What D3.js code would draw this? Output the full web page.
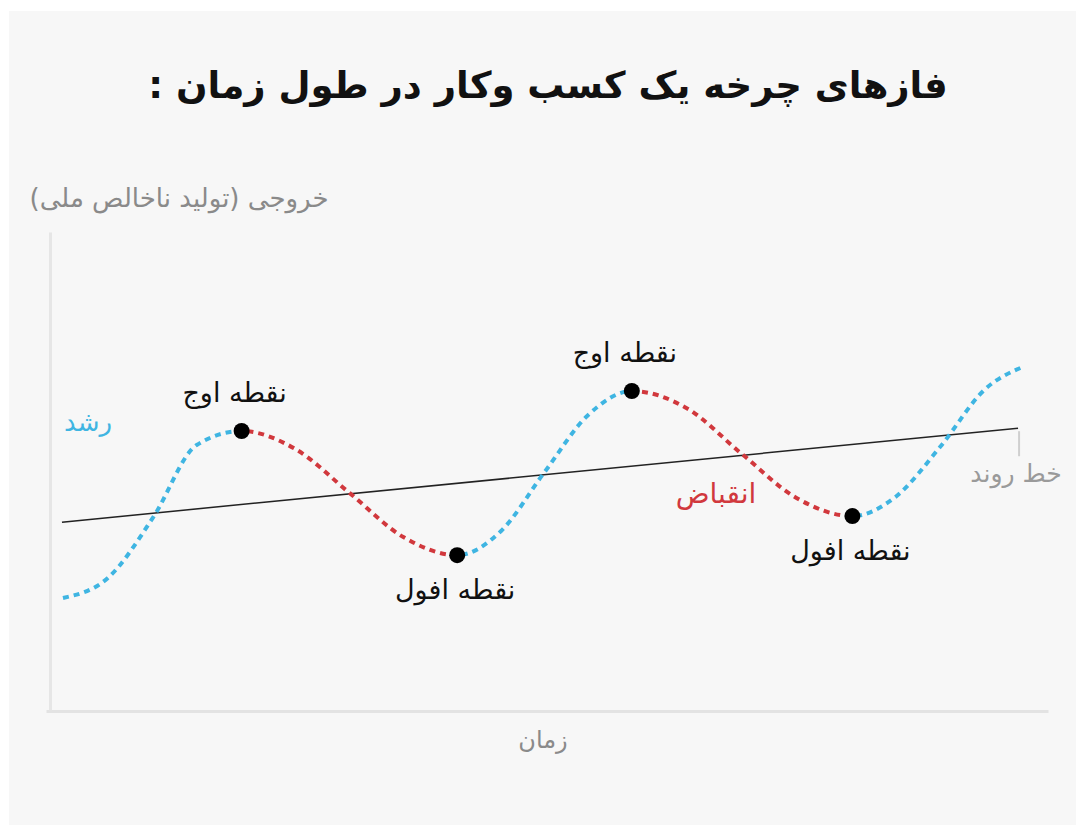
<!DOCTYPE html>
<html>
<head>
<meta charset="utf-8">
<script src="https://cdn.jsdelivr.net/npm/d3@7"></script>
<style>
  body { margin: 0; background: #ffffff; }
  text { font-family: "DejaVu Sans", "Noto Sans", sans-serif; }
</style>
</head>
<body>
<div id="chart"></div>
<script>
// Chart data (time and output in arbitrary 0-100 units)

var titleText = "فازهای چرخه یک کسب وکار در طول زمان :";
var yLabelText = "خروجی (تولید ناخالص ملی)";
var xLabelText = "زمان";

// points
var cycleTime = [1.3, 5.8, 10.3, 14.7, 19.2,
  24.6, 30.0, 35.4, 40.8,
  45.2, 49.5, 53.9, 58.3,
  63.8, 69.3, 74.8, 80.4,
  84.7, 89.2, 93.7, 97.5];
var cycleOutput = [24.1, 28.4, 41.3, 57.0, 60.0,
  56.1, 46.7, 37.2, 33.3,
  38.5, 51.0, 63.4, 68.6,
  64.9, 55.1, 45.6, 41.7,
  45.8, 56.6, 69.0, 73.8];

// peaks and troughs
var turnTime = [19.2, 40.8, 58.3, 80.4];
var turnOutput = [60.0, 33.3, 68.6, 41.7];
var turnLabels = ["نقطه اوج", "نقطه افول", "نقطه اوج", "نقطه افول"];
var turnIsPeak = [true, false, true, false];

// phases: growth (up) and contraction (down)
var phaseStart = [1.3, 19.2, 40.8, 58.3, 80.4];
var phaseEnd = [19.2, 40.8, 58.3, 80.4, 97.5];
var phaseType = ["up", "down", "up", "down", "up"];

// trend line
var trendTime = [1.2, 97.0];
var trendOutput = [40.4, 60.6];

var svgWidth = 1076;
var svgHeight = 825;

var blue = "#3fb5e2";
var red = "#d1383d";
var gray = "#8a8a8a";

var svg = d3.select("#chart")
  .append("svg")
  .attr("width", svgWidth)
  .attr("height", svgHeight);

// background panel
svg.append("rect")
  .attr("x", 9)
  .attr("y", 11)
  .attr("width", svgWidth - 9)
  .attr("height", svgHeight - 11)
  .attr("fill", "#f7f7f7");

// scales
var xScale = d3.scaleLinear().domain([0, 100]).range([50, 1048]);
var yScale = d3.scaleLinear().domain([0, 100]).range([710, 245]);

// axes (lines only)
var xAxisScale = xScale.copy().domain([xScale.invert(46), 100]).range([46, 1048]);
var yAxisScale = yScale.copy().domain([0, yScale.invert(232)]).range([710, 232]);

var bottomAxis = svg.append("g")
  .attr("transform", "translate(0, 711)")
  .call(d3.axisBottom(xAxisScale).tickValues([]).tickSizeOuter(0));
bottomAxis.select(".domain").attr("stroke", "#e3e3e3").attr("stroke-width", 3);

var leftAxis = svg.append("g")
  .attr("transform", "translate(50, 0)")
  .call(d3.axisLeft(yAxisScale).tickValues([]).tickSizeOuter(0));
leftAxis.select(".domain").attr("stroke", "#e6e6e6").attr("stroke-width", 3);

// title
svg.append("text")
  .attr("x", 548)
  .attr("y", 98)
  .attr("text-anchor", "middle")
  .attr("direction", "rtl")
  .attr("font-size", "37px")
  .attr("font-weight", "bold")
  .attr("fill", "#111111")
  .text(titleText);

// axis labels
svg.append("text")
  .attr("x", 179)
  .attr("y", 207)
  .attr("text-anchor", "middle")
  .attr("direction", "rtl")
  .attr("font-size", "26px")
  .attr("fill", gray)
  .text(yLabelText);

svg.append("text")
  .attr("x", 543)
  .attr("y", 748)
  .attr("text-anchor", "middle")
  .attr("direction", "rtl")
  .attr("font-size", "24px")
  .attr("fill", gray)
  .text(xLabelText);

// trend line
var trendData = trendTime.map((t, i) => ({ t: t, v: trendOutput[i] }));
svg.append("path")
  .datum(trendData)
  .attr("fill", "none")
  .attr("stroke", "#222222")
  .attr("stroke-width", 1.5)
  .attr("d", d3.line().x(d => xScale(d.t)).y(d => yScale(d.v)));

// small marker below end of trend line
var trendEnd = trendData[trendData.length - 1];
svg.append("line")
  .attr("x1", xScale(trendEnd.t) + 1)
  .attr("x2", xScale(trendEnd.t) + 1)
  .attr("y1", yScale(trendEnd.v) + 3)
  .attr("y2", yScale(trendEnd.v) + 28)
  .attr("stroke", "#cfcfcf")
  .attr("stroke-width", 2);

svg.append("text")
  .attr("x", 1016)
  .attr("y", 482)
  .attr("text-anchor", "middle")
  .attr("direction", "rtl")
  .attr("font-size", "25px")
  .attr("fill", "#9a9a9a")
  .text("خط روند");

// cycle curve, coloured by phase via clip paths
var cycleData = cycleTime.map((t, i) => ({ t: t, v: cycleOutput[i] }));
var cycleLine = d3.line()
  .x(d => xScale(d.t))
  .y(d => yScale(d.v))
  .curve(d3.curveMonotoneX);

var defs = svg.append("defs");
phaseType.forEach(function(p, i) {
  var x0 = i === 0 ? 0 : xScale(phaseStart[i]);
  var x1 = i === phaseType.length - 1 ? svgWidth : xScale(phaseEnd[i]);
  defs.append("clipPath")
    .attr("id", "phase" + i)
    .append("rect")
    .attr("x", x0)
    .attr("y", 0)
    .attr("width", x1 - x0)
    .attr("height", svgHeight);

  svg.append("path")
    .datum(cycleData)
    .attr("clip-path", "url(#phase" + i + ")")
    .attr("fill", "none")
    .attr("stroke", p === "up" ? blue : red)
    .attr("stroke-width", 4)
    .attr("stroke-dasharray", "6,5")
    .attr("d", cycleLine);
});

// phase names
svg.append("text")
  .attr("x", 88)
  .attr("y", 431)
  .attr("text-anchor", "middle")
  .attr("direction", "rtl")
  .attr("font-size", "26px")
  .attr("fill", blue)
  .text("رشد");

svg.append("text")
  .attr("x", 716)
  .attr("y", 503)
  .attr("text-anchor", "middle")
  .attr("direction", "rtl")
  .attr("font-size", "28px")
  .attr("fill", red)
  .text("انقباض");

// turning points
svg.append("g")
  .selectAll("circle")
  .data(turnTime)
  .enter()
  .append("circle")
  .attr("cx", d => xScale(d))
  .attr("cy", (d, i) => yScale(turnOutput[i]))
  .attr("r", 8)
  .attr("fill", "#000000");

svg.append("g")
  .selectAll("text")
  .data(turnTime)
  .enter()
  .append("text")
  .attr("x", (d, i) => xScale(d) + (turnIsPeak[i] ? -7 : -2))
  .attr("y", (d, i) => yScale(turnOutput[i]) + (turnIsPeak[i] ? -29 : 44))
  .attr("text-anchor", "middle")
  .attr("direction", "rtl")
  .attr("font-size", "27px")
  .attr("fill", "#111111")
  .text((d, i) => turnLabels[i]);
</script>
</body>
</html>
